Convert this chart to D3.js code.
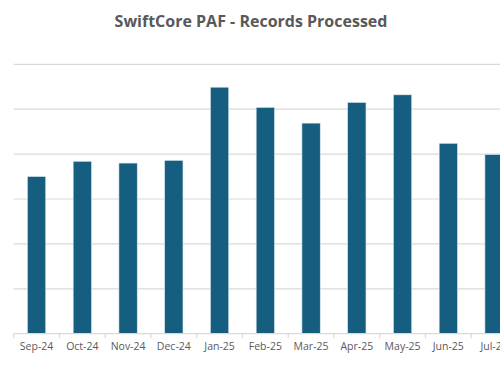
<!DOCTYPE html>
<html><head><meta charset="utf-8">
<script src="https://cdn.jsdelivr.net/npm/d3@7"></script>
<style>html,body{margin:0;padding:0;background:#fff;overflow:hidden}</style>
</head><body>
<svg id="chart" width="500" height="383"></svg>
<script>
const title = "SwiftCore PAF - Records Processed";
const months = ["Sep-24","Oct-24","Nov-24","Dec-24","Jan-25","Feb-25","Mar-25","Apr-25","May-25","Jun-25","Jul-25"];
const records = [35.0, 38.4, 38.0, 38.6, 54.9, 50.4, 46.9, 51.5, 53.2, 42.4, 39.9];
const yTicks = [0, 10, 20, 30, 40, 50, 60];

const svg = d3.select("#chart");
const font = "'Open Sans', 'Liberation Sans', sans-serif";
const left = 13.7, step = 45.75;
const x = d3.scaleBand().domain(months).range([left, left + step * months.length]).paddingInner(0.6).paddingOuter(0.3);
const y = d3.scaleLinear().domain([0, 60]).range([333.7, 64.3]);
const right = left + step * (months.length + 1);

svg.append("g").selectAll("line").data(yTicks.slice(1)).join("line")
  .attr("x1", left).attr("x2", right)
  .attr("y1", d => y(d)).attr("y2", d => y(d))
  .attr("stroke", "#d9d9d9").attr("stroke-width", 1.2);

svg.append("g").selectAll("rect").data(records).join("rect")
  .attr("x", (d, i) => x(months[i]))
  .attr("width", x.bandwidth())
  .attr("y", d => y(d))
  .attr("height", d => y(0) - y(d))
  .attr("fill", "#155e7f")
  .attr("stroke", "#dbe6ec").attr("stroke-width", 0.6);

const xAxis = d3.axisBottom(x).tickSize(0).tickPadding(9);
const gx = svg.append("g").attr("transform", `translate(0,${y(0)})`).call(xAxis);
gx.select(".domain").remove();
gx.append("line").attr("x1", left).attr("x2", right).attr("y1", 0).attr("y2", 0)
  .attr("stroke", "#d9d9d9").attr("stroke-width", 1.2);
gx.append("g").selectAll("line").data(d3.range(months.length + 1)).join("line")
  .attr("x1", i => left + i * step).attr("x2", i => left + i * step)
  .attr("y1", 0).attr("y2", 4.5).attr("stroke", "#d9d9d9").attr("stroke-width", 1.2);
gx.selectAll(".tick text").attr("font-family", font).attr("font-size", 10.5).attr("fill", "#595959");

svg.append("text").attr("x", 251).attr("y", 27).attr("text-anchor", "middle")
  .attr("font-family", font).attr("font-weight", "bold").attr("font-size", 16)
  .attr("fill", "#595959").text(title);
</script>
</body></html>
